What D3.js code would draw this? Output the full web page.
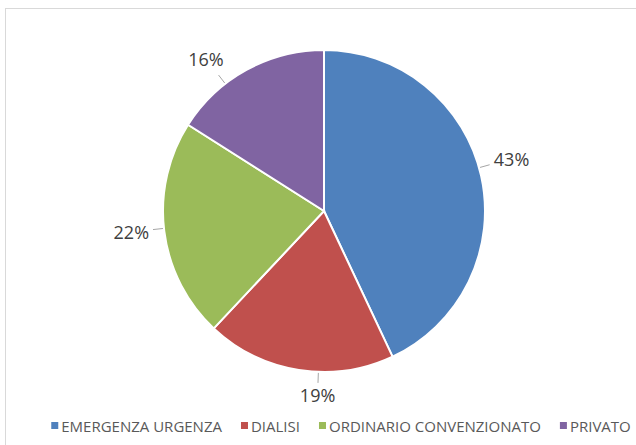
<!DOCTYPE html>
<html>
<head>
<meta charset="utf-8">
<script src="https://cdn.jsdelivr.net/npm/d3@7"></script>
<style>
  body { margin: 0; background: #fff; }
  svg { display: block; font-family: "Open Sans", "Noto Sans", sans-serif; }
</style>
</head>
<body>
<div id="chart"></div>
<script>
// Data
const categories = ["EMERGENZA URGENZA", "DIALISI", "ORDINARIO CONVENZIONATO", "PRIVATO"];
const shares = [43, 19, 22, 16];
const colors = ["#4F81BD", "#C0504D", "#9BBB59", "#8064A2"];
// small angle tweaks (degrees) so the labels sit where Excel put them
const labelNudge = [-3, -7, 1, -9];

const W = 636, H = 445;
const cx = 324, cy = 211, r = 161;

const svg = d3.select("#chart")
    .append("svg")
    .attr("width", W)
    .attr("height", H);

// chart frame (continues past the right / bottom edge)
svg.append("rect")
    .attr("x", 5.5).attr("y", 8.5)
    .attr("width", W + 20).attr("height", H + 20)
    .attr("fill", "none")
    .attr("stroke", "#d9d9d9");

const pie = d3.pie().sort(null).value(d => d);
const arcs = pie(shares);
const arc = d3.arc().innerRadius(0).outerRadius(r);

const g = svg.append("g").attr("transform", `translate(${cx},${cy})`);

g.selectAll("path.slice")
    .data(arcs)
    .enter()
    .append("path")
    .attr("class", "slice")
    .attr("d", arc)
    .attr("fill", (d, i) => colors[i])
    .attr("stroke", "#fff")
    .attr("stroke-width", 2);

// Labels with leader lines
const hw = 19, hh = 9;
arcs.forEach((d, i) => {
    const a = (d.startAngle + d.endAngle) / 2 + labelNudge[i] * Math.PI / 180;
    const s = Math.sin(a), c = -Math.cos(a);
    const dist = r + 13 + hw * Math.abs(s) + hh * Math.abs(c);

    g.append("line")
        .attr("x1", (r + 1) * s).attr("y1", (r + 1) * c)
        .attr("x2", (r + 11) * s).attr("y2", (r + 11) * c)
        .attr("stroke", "#a6a6a6")
        .attr("stroke-width", 1);

    g.append("text")
        .attr("x", dist * s)
        .attr("y", dist * c)
        .attr("text-anchor", "middle")
        .attr("dominant-baseline", "central")
        .attr("font-size", 18)
        .attr("fill", "#404040")
        .text(shares[i] + "%");
});

// Legend
const legend = svg.append("g").attr("transform", "translate(0,426)");
const items = legend.selectAll("g.item")
    .data(categories)
    .enter()
    .append("g")
    .attr("class", "item");

items.append("rect")
    .attr("width", 7).attr("height", 7)
    .attr("y", -4)
    .attr("fill", (d, i) => colors[i]);

items.append("text")
    .attr("x", 10)
    .attr("dominant-baseline", "central")
    .attr("font-size", 15)
    .attr("fill", "#595959")
    .text(d => d);

let xpos = 0;
const gap = 19;
const widths = [];
items.each(function () {
    const w = 10 + this.querySelector("text").getComputedTextLength();
    widths.push(w);
});
const total = d3.sum(widths) + gap * (widths.length - 1);
xpos = 341 - total / 2;
items.attr("transform", (d, i) => {
    const t = `translate(${xpos},0)`;
    xpos += widths[i] + gap;
    return t;
});
</script>
</body>
</html>
